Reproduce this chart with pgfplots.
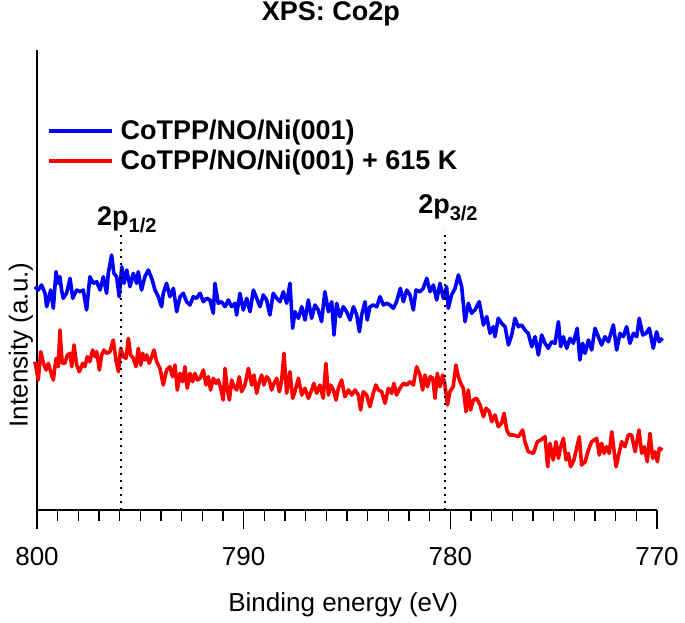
\documentclass[border=0pt]{standalone}
\usepackage{fontspec}
\setmainfont{Liberation Sans}
\usepackage{pgfplots}
\usepackage{pgfplotstable}
\pgfplotsset{compat=1.18}

% spectra: binding energy (eV), intensity (arb.)
\pgfplotstableread{
E I
800.10 223.3
799.94 220
799.78 225
799.61 216.7
799.53 203.3
799.45 210
799.34 220
799.21 201.7
799.08 238.3
798.97 226.7
798.89 233.3
798.81 220
798.73 211.7
798.57 216.7
798.40 231.7
798.27 211.7
798.16 216.7
798.08 220
797.92 218.3
797.76 220
797.60 200
797.44 233.3
797.28 226.7
797.11 228.3
796.95 220
796.79 233.3
796.63 216.7
796.55 236.7
796.39 255
796.28 236.7
796.15 233.3
796.02 213.3
795.90 243.3
795.79 226.7
795.66 240
795.50 223.3
795.34 236.7
795.18 226.7
795.10 238.3
794.94 220
794.78 233.3
794.61 240
794.45 231.7
794.29 220
794.13 213.3
793.97 203.3
793.89 216.7
793.73 226.7
793.57 213.3
793.40 221.7
793.24 198.3
793.08 213.3
792.92 216.7
792.76 208.3
792.60 205
792.44 213.3
792.28 211.7
792.11 216.7
791.95 208.3
791.79 211.7
791.63 210
791.47 196.7
791.39 226.7
791.23 206.7
791.07 208.3
790.90 203.3
790.74 210
790.58 203.3
790.42 206.7
790.34 195
790.18 216.7
790.02 200
789.85 211.7
789.69 198.3
789.53 220
789.37 211.7
789.21 203.3
789.05 215
788.89 210
788.73 195
788.57 216.7
788.40 211.7
788.24 208.3
788.08 218.3
787.92 206.7
787.76 226.7
787.63 181.7
787.52 198.3
787.35 191.7
787.19 203.3
787.03 190
786.87 210
786.71 191.7
786.55 205
786.39 200
786.23 188.3
786.07 218.3
785.90 198.3
785.74 208.3
785.63 175
785.50 206.7
785.34 193.3
785.18 203.3
785.02 198.3
784.85 190
784.69 203.3
784.53 195
784.40 178.3
784.29 195
784.13 208.3
784.02 190
783.89 203.3
783.73 205
783.56 203.3
783.40 213.3
783.24 205
783.08 206.7
782.92 205
782.76 201.7
782.60 208.3
782.42 221.7
782.27 208.3
782.11 220
781.95 215
781.79 200
781.66 220
781.47 218.3
781.31 221.7
781.14 231.7
780.98 218.3
780.82 225
780.66 210
780.50 226.7
780.34 211.7
780.18 223.3
780.10 201.7
779.94 215
779.77 221.7
779.61 235
779.45 223.3
779.29 188.3
779.13 206.7
778.97 196.7
778.81 200
778.60 208.3
778.40 185
778.24 193.3
778.08 176.7
777.92 183.3
777.84 173.3
777.68 191.7
777.52 186.7
777.35 183.3
777.19 165
777.03 175
776.87 191.7
776.71 183.3
776.55 185
776.39 180
776.23 176.7
776.06 163.3
775.90 173.3
775.74 155
775.58 175
775.42 166.7
775.26 161.7
775.10 168.3
774.93 166.7
774.77 188.3
774.66 163.3
774.53 173.3
774.37 161.7
774.21 171.7
774.05 166.7
773.86 181.7
773.73 150
773.60 166.7
773.48 156.7
773.32 170
773.16 160
773.00 181.7
772.84 173.3
772.68 165
772.52 173.3
772.35 168.3
772.11 185
771.95 160
771.79 176.7
771.63 173.3
771.47 183.3
771.31 166.7
771.14 176.7
770.98 173.3
770.86 191.7
770.69 175
770.53 176.7
770.37 181.7
770.18 161.7
770.02 178.3
769.89 168.3
769.73 171.7
}\bluetab

\pgfplotstableread{
E I
800.10 148.3
799.94 130
799.82 158.3
799.69 146.7
799.56 140
799.45 146.7
799.34 138.3
799.21 130
799.08 151.7
798.97 143.3
798.89 180
798.78 146.7
798.65 146.7
798.53 155
798.40 156.7
798.32 143.3
798.21 165
798.08 145
797.95 138.3
797.79 146.7
797.68 143.3
797.57 153.3
797.44 148.3
797.31 160
797.19 153.3
797.11 158.3
796.98 140
796.87 155
796.76 160
796.63 156.7
796.47 158.3
796.31 170
796.18 150
796.06 138.3
795.95 161.7
795.82 153.3
795.69 151.7
795.58 171.7
795.47 155
795.34 151.7
795.21 143.3
795.10 161.7
794.98 145
794.89 156.7
794.78 150
794.69 155
794.57 146.7
794.45 153.3
794.34 160
794.21 148.3
794.05 141.7
793.89 125
793.73 140
793.57 143.3
793.44 133.3
793.32 145
793.21 120
793.08 136.7
792.95 128.3
792.84 143.3
792.73 121.7
792.60 136.7
792.47 128.3
792.36 136.7
792.24 130
792.11 131.7
791.95 140
791.82 125
791.71 133.3
791.60 120
791.47 131.7
791.34 126.7
791.23 130
791.11 121.7
790.99 110
790.90 141.7
790.79 120
790.69 110
790.58 130
790.47 123.3
790.34 120
790.21 133.3
790.10 118.3
789.94 125
789.77 141.7
789.61 125
789.50 135
789.37 116.7
789.24 128.3
789.13 135
789.02 125
788.89 133.3
788.76 130
788.65 120
788.53 126.7
788.40 131.7
788.27 118.3
788.16 130
788.05 156.7
787.92 116.7
787.76 138.3
787.63 111.7
787.52 118.3
787.35 131.7
787.19 115
787.03 121.7
786.87 111.7
786.71 120
786.60 126.7
786.47 116.7
786.31 125
786.15 111.7
786.02 146.7
785.90 115
785.79 125
785.66 120
785.53 110
785.42 121.7
785.26 130
785.10 113.3
784.93 120
784.77 115
784.61 120
784.45 115
784.34 100
784.21 118.3
784.05 115
783.89 103.3
783.73 116.7
783.60 125
783.48 120
783.32 118.3
783.16 106.7
783.00 121.7
782.84 116.7
782.73 126.7
782.60 115
782.44 121.7
782.27 126.7
782.11 125
781.95 128.3
781.79 125
781.63 143.3
781.47 135
781.34 120
781.23 135
781.11 123.3
780.98 133.3
780.85 131.7
780.74 111.7
780.63 136.7
780.50 123.3
780.37 135
780.26 125
780.14 105
780.02 118.3
779.86 123.3
779.73 145
779.61 133.3
779.50 126.7
779.37 121.7
779.24 98.3
779.13 120
779.02 100
778.89 110
778.73 111.7
778.56 105
778.40 93.3
778.27 101.7
778.11 98.3
778.00 88.3
777.84 95
777.68 83.3
777.52 86.7
777.40 96.7
777.27 80
777.14 75
776.95 75
776.71 73.3
776.50 80
776.39 68.3
776.23 58.3
775.98 56.7
775.79 68.3
775.63 70
775.42 73.3
775.29 43.3
775.18 66.7
775.02 50
774.89 68.3
774.77 51.7
774.66 63.3
774.53 71.7
774.40 50
774.29 56.7
774.18 43.3
774.02 50
773.76 73.3
773.65 45
773.48 48.3
773.32 60
773.16 68.3
772.92 71.7
772.79 55
772.68 66.7
772.56 56.7
772.44 63.3
772.31 56.7
772.19 78.3
771.98 43.3
771.82 58.3
771.71 68.3
771.55 63.3
771.39 75
771.23 75
771.06 58.3
770.87 80
770.74 56.7
770.61 63.3
770.47 48.3
770.34 76.7
770.21 51.7
770.10 58.3
769.98 48.3
769.89 61.7
769.73 60
}\redtab

\begin{document}
\begin{tikzpicture}
\useasboundingbox (0pt,0pt) rectangle (685pt,622pt);
\begin{axis}[
  at={(37pt,112pt)}, anchor=south west,
  width=620pt, height=460pt, scale only axis,
  x dir=reverse,
  xmin=770, xmax=800, ymin=0, ymax=460,
  clip=false,
  axis x line*=bottom, axis y line*=left,
  axis line style={black, line width=1.2pt},
  ytick=\empty,
  xtick={770,780,790,800},
  minor xtick={771,...,779,781,782,...,789,791,792,...,799},
  tick align=outside,
  major tick length=19pt, minor tick length=11pt,
  every tick/.style={black, line width=1.2pt},
  /pgf/number format/assume math mode=true,
  xticklabel style={font=\fontsize{26}{30}\selectfont, anchor=base, yshift=-36pt},
  xlabel={Binding energy (eV)},
  xlabel style={font=\fontsize{26}{30}\selectfont, at={(axis description cs:0.494,-0.2196)}, anchor=base},
  ylabel={Intensity (a.u.)},
  ylabel style={font=\fontsize{26}{30}\selectfont, at={(axis description cs:-0.026,0.359)}, anchor=center, rotate=0},
  title={XPS: Co2p},
  title style={font=\fontsize{27}{30}\selectfont\bfseries, at={(axis description cs:0.474,1.051)}, anchor=base},
  legend cell align=left,
  legend image code/.code={\draw[#1] (0pt,0pt) -- (63pt,0pt);},
  legend style={draw=none, fill=none, inner sep=0pt, outer sep=0pt,
    at={(axis cs:799.52,391)}, anchor=north west,
    column sep=7pt, row sep=6pt,
    font=\fontsize{27}{30}\selectfont\bfseries,
    nodes={inner sep=0pt, text height=21pt, text depth=3pt}},
]
\addplot[blue, line width=3.6pt, line join=round] table[x=E, y=I] {\bluetab};
\addlegendentry{CoTPP/NO/Ni(001)}
\addplot[red, line width=3.6pt, line join=round] table[x=E, y=I] {\redtab};
\addlegendentry{CoTPP/NO/Ni(001) + 615 K}

\addplot[black, line width=2pt, dash pattern=on 2pt off 5pt, forget plot]
  coordinates {(795.94,0) (795.94,275)};
\addplot[black, line width=2pt, dash pattern=on 2pt off 5pt, forget plot]
  coordinates {(780.26,0) (780.26,280)};

\node[anchor=base west, font=\fontsize{27}{30}\selectfont\bfseries, inner sep=0pt]
  at (axis cs:797.10,285) {2p\raisebox{-0.28em}{\fontsize{20}{24}\selectfont 1/2}};
\node[anchor=base west, font=\fontsize{27}{30}\selectfont\bfseries, inner sep=0pt]
  at (axis cs:781.56,297) {2p\raisebox{-0.28em}{\fontsize{20}{24}\selectfont 3/2}};
\end{axis}
\end{tikzpicture}
\end{document}
